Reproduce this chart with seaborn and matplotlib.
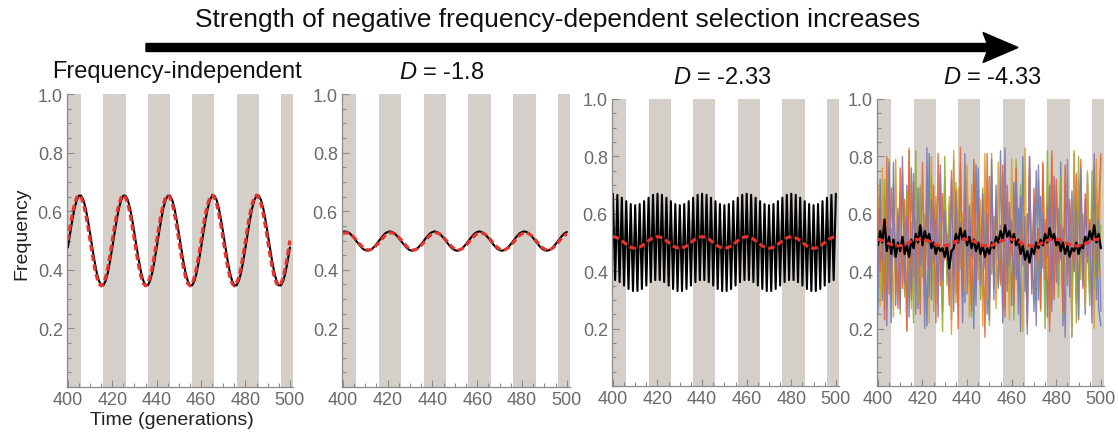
import numpy as np
import pandas as pd
import seaborn as sns
import matplotlib.pyplot as plt
from matplotlib.ticker import MultipleLocator
from matplotlib.patches import FancyArrow

######################################################################### data ##########################################################
# frequency of the allele, one value per generation (400..500)
p1_black = [0.476,0.524,0.570,0.610,0.638,0.653,0.653,0.638,0.610,0.570,0.524,0.476,0.430,0.390,0.362,0.347,0.347,0.362,0.390,0.430,
            0.476,0.524,0.570,0.610,0.638,0.653,0.653,0.638,0.610,0.570,0.524,0.476,0.430,0.390,0.362,0.347,0.347,0.362,0.390,0.430,
            0.476,0.524,0.570,0.610,0.638,0.653,0.653,0.638,0.610,0.570,0.524,0.476,0.430,0.390,0.362,0.347,0.347,0.362,0.390,0.430,
            0.476,0.524,0.570,0.610,0.638,0.653,0.653,0.638,0.610,0.570,0.524,0.476,0.430,0.390,0.362,0.347,0.347,0.362,0.390,0.430,
            0.476,0.524,0.570,0.610,0.638,0.653,0.653,0.638,0.610,0.570,0.524,0.476,0.430,0.390,0.362,0.347,0.347,0.362,0.390,0.430,
            0.476]
p1_red = [0.500,0.548,0.591,0.625,0.647,0.655,0.647,0.625,0.591,0.548,0.500,0.452,0.409,0.375,0.353,0.345,0.353,0.375,0.409,0.452,
          0.500,0.548,0.591,0.625,0.647,0.655,0.647,0.625,0.591,0.548,0.500,0.452,0.409,0.375,0.353,0.345,0.353,0.375,0.409,0.452,
          0.500,0.548,0.591,0.625,0.647,0.655,0.647,0.625,0.591,0.548,0.500,0.452,0.409,0.375,0.353,0.345,0.353,0.375,0.409,0.452,
          0.500,0.548,0.591,0.625,0.647,0.655,0.647,0.625,0.591,0.548,0.500,0.452,0.409,0.375,0.353,0.345,0.353,0.375,0.409,0.452,
          0.500,0.548,0.591,0.625,0.647,0.655,0.647,0.625,0.591,0.548,0.500,0.452,0.409,0.375,0.353,0.345,0.353,0.375,0.409,0.452,
          0.500]

p2_black = [0.529,0.531,0.529,0.525,0.517,0.508,0.498,0.488,0.479,0.471,0.467,0.465,0.467,0.471,0.479,0.488,0.498,0.508,0.517,0.525,
            0.529,0.531,0.529,0.525,0.517,0.508,0.498,0.488,0.479,0.471,0.467,0.465,0.467,0.471,0.479,0.488,0.498,0.508,0.517,0.525,
            0.529,0.531,0.529,0.525,0.517,0.508,0.498,0.488,0.479,0.471,0.467,0.465,0.467,0.471,0.479,0.488,0.498,0.508,0.517,0.525,
            0.529,0.531,0.529,0.525,0.517,0.508,0.498,0.488,0.479,0.471,0.467,0.465,0.467,0.471,0.479,0.488,0.498,0.508,0.517,0.525,
            0.529,0.531,0.529,0.525,0.517,0.508,0.498,0.488,0.479,0.471,0.467,0.465,0.467,0.471,0.479,0.488,0.498,0.508,0.517,0.525,
            0.529]
p2_red = [0.523,0.526,0.526,0.523,0.518,0.510,0.502,0.492,0.484,0.476,0.471,0.468,0.468,0.471,0.476,0.484,0.492,0.502,0.510,0.518,
          0.523,0.526,0.526,0.523,0.518,0.510,0.502,0.492,0.484,0.476,0.471,0.468,0.468,0.471,0.476,0.484,0.492,0.502,0.510,0.518,
          0.523,0.526,0.526,0.523,0.518,0.510,0.502,0.492,0.484,0.476,0.471,0.468,0.468,0.471,0.476,0.484,0.492,0.502,0.510,0.518,
          0.523,0.526,0.526,0.523,0.518,0.510,0.502,0.492,0.484,0.476,0.471,0.468,0.468,0.471,0.476,0.484,0.492,0.502,0.510,0.518,
          0.523,0.526,0.526,0.523,0.518,0.510,0.502,0.492,0.484,0.476,0.471,0.468,0.468,0.471,0.476,0.484,0.492,0.502,0.510,0.518,
          0.523]

p3_black = [0.670,0.369,0.666,0.362,0.656,0.350,0.644,0.338,0.634,0.331,0.630,0.331,0.634,0.338,0.644,0.350,0.656,0.362,0.666,0.369,
            0.670,0.369,0.666,0.362,0.656,0.350,0.644,0.338,0.634,0.331,0.630,0.331,0.634,0.338,0.644,0.350,0.656,0.362,0.666,0.369,
            0.670,0.369,0.666,0.362,0.656,0.350,0.644,0.338,0.634,0.331,0.630,0.331,0.634,0.338,0.644,0.350,0.656,0.362,0.666,0.369,
            0.670,0.369,0.666,0.362,0.656,0.350,0.644,0.338,0.634,0.331,0.630,0.331,0.634,0.338,0.644,0.350,0.656,0.362,0.666,0.369,
            0.670,0.369,0.666,0.362,0.656,0.350,0.644,0.338,0.634,0.331,0.630,0.331,0.634,0.338,0.644,0.350,0.656,0.362,0.666,0.369,
            0.670]
p3_red = [0.520,0.519,0.516,0.512,0.506,0.500,0.494,0.488,0.484,0.481,0.480,0.481,0.484,0.488,0.494,0.500,0.506,0.512,0.516,0.519,
          0.520,0.519,0.516,0.512,0.506,0.500,0.494,0.488,0.484,0.481,0.480,0.481,0.484,0.488,0.494,0.500,0.506,0.512,0.516,0.519,
          0.520,0.519,0.516,0.512,0.506,0.500,0.494,0.488,0.484,0.481,0.480,0.481,0.484,0.488,0.494,0.500,0.506,0.512,0.516,0.519,
          0.520,0.519,0.516,0.512,0.506,0.500,0.494,0.488,0.484,0.481,0.480,0.481,0.484,0.488,0.494,0.500,0.506,0.512,0.516,0.519,
          0.520,0.519,0.516,0.512,0.506,0.500,0.494,0.488,0.484,0.481,0.480,0.481,0.484,0.488,0.494,0.500,0.506,0.512,0.516,0.519,
          0.520]

# D = -4.33: single runs (chaotic), their mean and the expectation
p4_run1 = [0.25,0.72,0.30,0.66,0.41,0.55,0.22,0.78,0.28,0.60,0.45,0.52,0.33,0.70,0.24,0.76,0.38,0.58,0.27,0.69,
           0.44,0.50,0.21,0.81,0.30,0.63,0.47,0.36,0.74,0.26,0.68,0.40,0.57,0.23,0.79,0.32,0.61,0.46,0.53,0.29,
           0.72,0.35,0.64,0.20,0.77,0.42,0.55,0.31,0.67,0.25,0.73,0.39,0.59,0.48,0.34,0.82,0.22,0.65,0.43,0.56,
           0.28,0.71,0.37,0.62,0.19,0.80,0.33,0.60,0.45,0.51,0.26,0.75,0.30,0.66,0.41,0.58,0.24,0.70,0.36,0.63,
           0.47,0.35,0.78,0.21,0.68,0.39,0.57,0.17,0.81,0.29,0.64,0.44,0.53,0.25,0.74,0.32,0.61,0.42,0.69,0.27,
           0.21]
p4_run2 = [0.70,0.28,0.76,0.35,0.62,0.43,0.55,0.24,0.79,0.31,0.67,0.40,0.58,0.20,0.83,0.27,0.71,0.36,0.64,0.46,
           0.52,0.30,0.75,0.22,0.80,0.34,0.63,0.45,0.57,0.26,0.73,0.38,0.66,0.18,0.82,0.29,0.69,0.41,0.60,0.33,
           0.77,0.24,0.70,0.44,0.54,0.37,0.65,0.21,0.81,0.30,0.72,0.39,0.59,0.27,0.78,0.35,0.62,0.48,0.50,0.23,
           0.79,0.32,0.68,0.42,0.56,0.19,0.83,0.28,0.74,0.37,0.61,0.45,0.53,0.26,0.77,0.34,0.66,0.22,0.80,0.31,
           0.70,0.40,0.58,0.25,0.76,0.36,0.63,0.18,0.82,0.30,0.71,0.43,0.55,0.27,0.75,0.33,0.67,0.20,0.79,0.38,
           0.80]
p4_run3 = [0.48,0.55,0.33,0.72,0.27,0.79,0.36,0.61,0.44,0.50,0.25,0.75,0.31,0.68,0.40,0.57,0.22,0.82,0.29,0.70,
           0.38,0.60,0.46,0.34,0.73,0.26,0.66,0.42,0.54,0.19,0.80,0.35,0.63,0.48,0.39,0.71,0.28,0.77,0.33,0.59,
           0.45,0.52,0.24,0.78,0.37,0.62,0.30,0.69,0.43,0.56,0.21,0.81,0.34,0.65,0.47,0.41,0.74,0.27,0.67,0.36,
           0.58,0.23,0.79,0.32,0.70,0.44,0.53,0.26,0.76,0.38,0.61,0.29,0.72,0.40,0.55,0.20,0.82,0.33,0.64,0.46,
           0.50,0.31,0.73,0.25,0.68,0.42,0.57,0.35,0.66,0.22,0.80,0.37,0.60,0.45,0.51,0.28,0.75,0.34,0.63,0.41,
           0.56]
p4_run4 = [0.62,0.40,0.58,0.23,0.80,0.32,0.69,0.45,0.51,0.27,0.76,0.34,0.65,0.19,0.82,0.30,0.71,0.43,0.56,0.25,
           0.78,0.36,0.64,0.48,0.41,0.70,0.22,0.81,0.35,0.67,0.44,0.53,0.28,0.75,0.38,0.62,0.20,0.83,0.31,0.72,
           0.46,0.55,0.26,0.79,0.33,0.68,0.41,0.58,0.17,0.81,0.29,0.73,0.39,0.61,0.47,0.36,0.77,0.24,0.70,0.42,
           0.57,0.28,0.76,0.35,0.66,0.46,0.52,0.21,0.80,0.32,0.69,0.44,0.55,0.27,0.78,0.37,0.63,0.19,0.82,0.30,
           0.72,0.43,0.56,0.26,0.77,0.35,0.65,0.48,0.40,0.74,0.23,0.79,0.34,0.67,0.45,0.58,0.29,0.76,0.38,0.62,
           0.81]
p4_run5 = [0.35,0.66,0.44,0.57,0.21,0.78,0.30,0.70,0.39,0.62,0.27,0.80,0.36,0.59,0.47,0.33,0.74,0.25,0.69,0.42,
           0.55,0.20,0.83,0.31,0.65,0.43,0.58,0.24,0.77,0.37,0.61,0.46,0.34,0.72,0.26,0.68,0.40,0.57,0.22,0.81,
           0.32,0.63,0.45,0.52,0.28,0.76,0.35,0.67,0.41,0.60,0.23,0.79,0.30,0.70,0.44,0.56,0.27,0.83,0.33,0.64,
           0.47,0.38,0.71,0.25,0.66,0.42,0.59,0.18,0.80,0.34,0.63,0.21,0.77,0.39,0.60,0.48,0.45,0.69,0.26,0.73,
           0.36,0.62,0.44,0.55,0.17,0.79,0.31,0.68,0.40,0.61,0.24,0.76,0.35,0.65,0.43,0.57,0.22,0.81,0.30,0.58,
           0.26]
p4_black = [0.49,0.54,0.50,0.58,0.47,0.52,0.46,0.51,0.45,0.50,0.47,0.52,0.46,0.49,0.45,0.51,0.48,0.53,0.50,0.56,
            0.49,0.54,0.51,0.53,0.48,0.50,0.46,0.49,0.47,0.48,0.45,0.49,0.41,0.47,0.48,0.53,0.50,0.55,0.51,0.54,
            0.49,0.52,0.48,0.51,0.47,0.50,0.46,0.49,0.45,0.48,0.46,0.50,0.48,0.52,0.50,0.54,0.51,0.56,0.52,0.54,
            0.50,0.53,0.49,0.51,0.46,0.49,0.44,0.47,0.43,0.48,0.46,0.50,0.48,0.51,0.49,0.53,0.50,0.55,0.51,0.53,
            0.49,0.51,0.47,0.50,0.46,0.49,0.45,0.48,0.47,0.50,0.46,0.49,0.48,0.52,0.50,0.54,0.51,0.56,0.50,0.53,
            0.48]
p4_red = [0.511,0.510,0.507,0.504,0.500,0.496,0.493,0.490,0.489,0.488,0.489,0.490,0.493,0.496,0.500,0.504,0.507,0.510,0.511,0.512,
          0.511,0.510,0.507,0.504,0.500,0.496,0.493,0.490,0.489,0.488,0.489,0.490,0.493,0.496,0.500,0.504,0.507,0.510,0.511,0.512,
          0.511,0.510,0.507,0.504,0.500,0.496,0.493,0.490,0.489,0.488,0.489,0.490,0.493,0.496,0.500,0.504,0.507,0.510,0.511,0.512,
          0.511,0.510,0.507,0.504,0.500,0.496,0.493,0.490,0.489,0.488,0.489,0.490,0.493,0.496,0.500,0.504,0.507,0.510,0.511,0.512,
          0.511,0.510,0.507,0.504,0.500,0.496,0.493,0.490,0.489,0.488,0.489,0.490,0.493,0.496,0.500,0.504,0.507,0.510,0.511,0.512,
          0.511]

# grey bands = one environment phase
band_starts = [396, 416, 436, 456, 476, 496]
band_ends = [406, 426, 446, 466, 486, 506]

titles = ['Frequency-independent', r'$D$ = -1.8', r'$D$ = -2.33', r'$D$ = -4.33']
run_colors = ['#5E81B5', '#E19C24', '#8FB032', '#EB6235', '#8778B3']

######################################################################### plot ##########################################################
sns.set_theme(style='white')
plt.rcParams['font.family'] = ['Liberation Sans', 'DejaVu Sans']
plt.rcParams['mathtext.fontset'] = 'custom'
plt.rcParams['mathtext.it'] = 'Liberation Sans:italic'
plt.rcParams['mathtext.rm'] = 'Liberation Sans'

W, H = 1118, 439
fig = plt.figure(figsize=(W / 100, H / 100), dpi=100)

boxes = [(67, 293, 95, 388), (342, 570, 95, 388), (612, 839, 100, 387), (877, 1104, 100, 387)]
title_pos = [(177, 72), (442, 73), (722, 78), (992, 78)]
red_ls = (0, (2.0, 1.1))


def gens(v):
	return np.arange(400, 400 + len(v))


def style_axis(ax):
	for s in ['top', 'right']:
		ax.spines[s].set_visible(False)
	for s in ['left', 'bottom']:
		ax.spines[s].set_color('#8a8a8a')
		ax.spines[s].set_linewidth(0.9)
	ax.set_xlim(399.6, 501.4)
	ax.set_ylim(0, 1.0)
	ax.set_xticks([400, 420, 440, 460, 480, 500])
	ax.set_yticks([0.2, 0.4, 0.6, 0.8, 1.0])
	ax.set_yticklabels(['0.2', '0.4', '0.6', '0.8', '1.0'])
	ax.xaxis.set_minor_locator(MultipleLocator(5))
	ax.yaxis.set_minor_locator(MultipleLocator(0.05))
	ax.tick_params(which='both', direction='in', color='#8a8a8a', width=0.8,
		labelcolor='#6a6a6a', labelsize=13, pad=3, left=True, bottom=True)
	ax.tick_params(which='major', length=5)
	ax.tick_params(which='minor', length=3)
	for a, b in zip(band_starts, band_ends):
		ax.axvspan(a, b, color='#d5cfca', lw=0, zorder=0)


axes = []
for (l, r, t, b) in boxes:
	ax = fig.add_axes([l / W, 1 - b / H, (r - l) / W, (b - t) / H])
	style_axis(ax)
	axes.append(ax)

# panel 1 and 2: smooth cycling
for ax, blk, red in [(axes[0], p1_black, p1_red), (axes[1], p2_black, p2_red)]:
	sns.lineplot(x=gens(blk), y=blk, ax=ax, color='black', lw=1.5, estimator=None, sort=False)
	sns.lineplot(x=gens(red), y=red, ax=ax, color='#e8322b', lw=2.3, ls=red_ls, estimator=None, sort=False)

# panel 3: period-two overshoot
sns.lineplot(x=gens(p3_black), y=p3_black, ax=axes[2], color='black', lw=1.5, estimator=None, sort=False)
sns.lineplot(x=gens(p3_red), y=p3_red, ax=axes[2], color='#e8322b', lw=2.3, ls=red_ls, estimator=None, sort=False)

# panel 4: chaos
runs = pd.concat([pd.DataFrame({'gen': gens(v), 'freq': v, 'run': i})
	for i, v in enumerate([p4_run1, p4_run2, p4_run3, p4_run4, p4_run5])])
sns.lineplot(data=runs, x='gen', y='freq', hue='run', palette=run_colors, ax=axes[3],
	lw=1.0, alpha=0.9, estimator=None, sort=False, legend=False)
sns.lineplot(x=gens(p4_black), y=p4_black, ax=axes[3], color='black', lw=1.6, estimator=None, sort=False)
sns.lineplot(x=gens(p4_red), y=p4_red, ax=axes[3], color='#e8322b', lw=2.3, ls=red_ls, estimator=None, sort=False)

for ax in axes:
	ax.set_xlabel('')
	ax.set_ylabel('')

for (x, y), t in zip(title_pos, titles):
	fig.text(x / W, 1 - y / H, t, ha='center', va='center', fontsize=17, color='#111111')

fig.text(22 / W, 1 - 234 / H, 'Frequency', rotation=90, ha='center', va='center', fontsize=14, color='#222222')
fig.text(172 / W, 1 - 421 / H, 'Time (generations)', ha='center', va='center', fontsize=14, color='#222222')

# arrow on top
fig.text(558 / W, 1 - 20 / H, 'Strength of negative frequency-dependent selection increases',
	ha='center', va='center', fontsize=19, color='#111111')
fig.add_artist(FancyArrow(146 / W, 1 - 48.5 / H, (1018 - 146) / W, 0, width=8 / H, head_width=30 / H,
	head_length=35 / W, length_includes_head=True, overhang=0.12, color='black',
	transform=fig.transFigure))

plt.savefig('out.png', dpi=100)
plt.close()
